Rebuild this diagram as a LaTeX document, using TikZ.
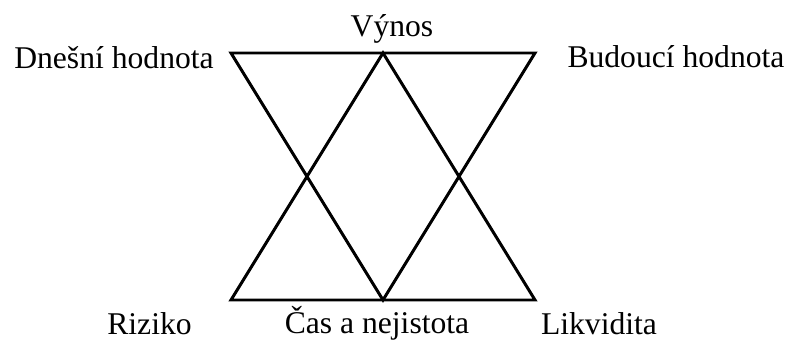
\documentclass[tikz,border=0pt]{standalone}
\usepackage{fontspec}
\setmainfont{Liberation Serif}
\usepackage{tikz}
\usetikzlibrary{positioning,calc}
\tikzset{
  edge/.style={draw=black, line width=1.7pt, line join=miter},
  lbl/.style={anchor=base, inner sep=0pt, font=\fontsize{18}{21}\selectfont},
}

\begin{document}
\begin{tikzpicture}
    \useasboundingbox (0,0) rectangle (15.78,6.84);
    % vertices
    \coordinate (tl) at (4.62,5.78);
    \coordinate (tm) at (7.66,5.78);
    \coordinate (tr) at (10.70,5.78);
    \coordinate (bl) at (4.62,0.84);
    \coordinate (bm) at (7.66,0.84);
    \coordinate (br) at (10.70,0.84);
    % two triangles
    \draw[edge] (tl) -- (tr) -- (bm) -- cycle;
    \draw[edge] (bl) -- (br) -- (tm) -- cycle;
    % labels
    \node[lbl] (vynos)    at (7.84,6.10)  {Výnos};
    \node[lbl] (dnesni)   at (2.28,5.46)  {Dnešní hodnota};
    \node[lbl] (budouci)  at (13.52,5.48) {Budoucí hodnota};
    \node[lbl] (riziko)   at (2.99,0.15)  {Riziko};
    \node[lbl] (cas)      at (7.54,0.17)  {Čas a nejistota};
    \node[lbl] (likvid)   at (11.98,0.15) {Likvidita};
  \end{tikzpicture}
\end{document}
